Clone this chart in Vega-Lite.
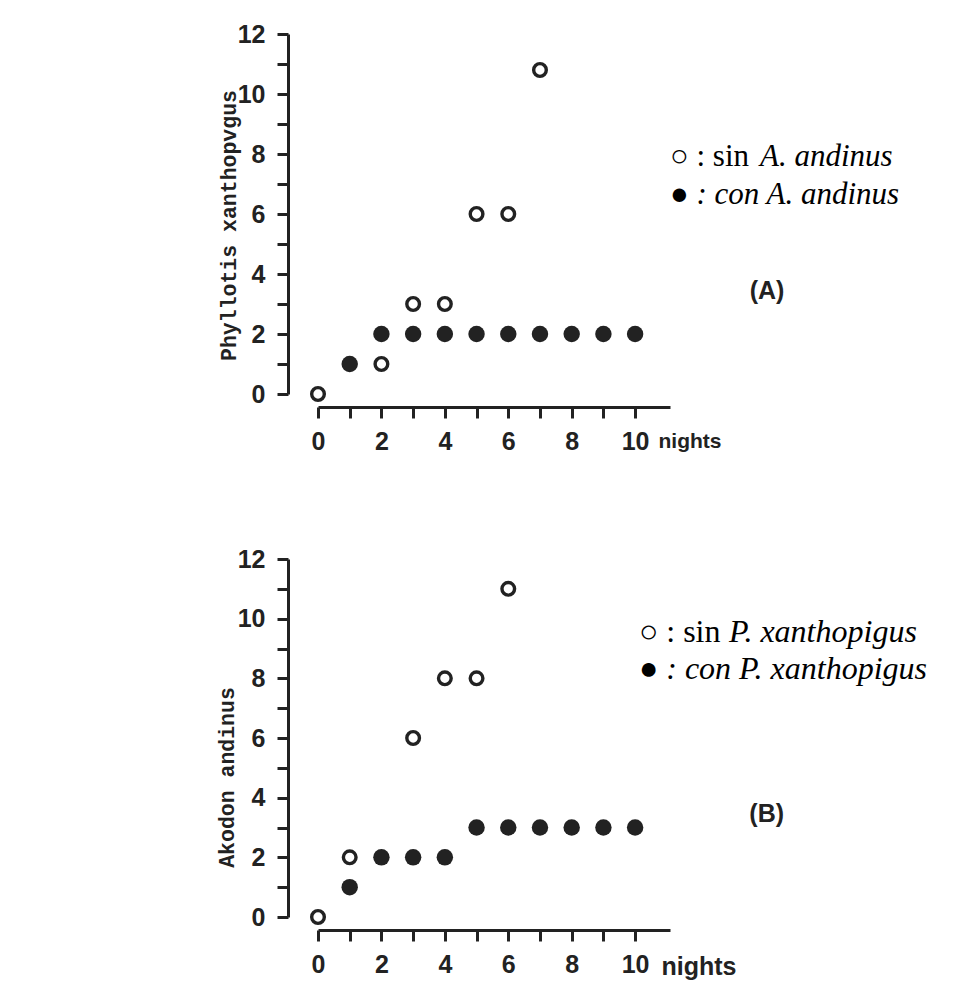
{
  "$schema": "https://vega.github.io/schema/vega-lite/v6.json",
  "background": "white",
  "padding": {"left": 216, "top": 22, "right": 5, "bottom": 5},
  "spacing": 93,
  "config": {
    "view": {"stroke": null},
    "axis": {
      "grid": false,
      "domainColor": "#222",
      "tickColor": "#222",
      "labelColor": "#222",
      "titleColor": "#222",
      "domainWidth": 3,
      "tickWidth": 3,
      "tickSize": 11,
      "labelFont": "Liberation Sans",
      "labelFontSize": 25,
      "labelFontWeight": "bold",
      "labelFlush": false,
      "labelOverlap": false
    }
  },
  "datasets": {
    "a_pts": [
      {"night": 0, "count": 0, "group": "sin"},
      {"night": 2, "count": 1, "group": "sin"},
      {"night": 3, "count": 3, "group": "sin"},
      {"night": 4, "count": 3, "group": "sin"},
      {"night": 5, "count": 6, "group": "sin"},
      {"night": 6, "count": 6, "group": "sin"},
      {"night": 7, "count": 10.8, "group": "sin"},
      {"night": 1, "count": 1, "group": "con"},
      {"night": 2, "count": 2, "group": "con"},
      {"night": 3, "count": 2, "group": "con"},
      {"night": 4, "count": 2, "group": "con"},
      {"night": 5, "count": 2, "group": "con"},
      {"night": 6, "count": 2, "group": "con"},
      {"night": 7, "count": 2, "group": "con"},
      {"night": 8, "count": 2, "group": "con"},
      {"night": 9, "count": 2, "group": "con"},
      {"night": 10, "count": 2, "group": "con"}
    ],
    "b_pts": [
      {"night": 0, "count": 0, "group": "sin"},
      {"night": 1, "count": 2, "group": "sin"},
      {"night": 3, "count": 6, "group": "sin"},
      {"night": 4, "count": 8, "group": "sin"},
      {"night": 5, "count": 8, "group": "sin"},
      {"night": 6, "count": 11, "group": "sin"},
      {"night": 1, "count": 1, "group": "con"},
      {"night": 2, "count": 2, "group": "con"},
      {"night": 3, "count": 2, "group": "con"},
      {"night": 4, "count": 2, "group": "con"},
      {"night": 5, "count": 3, "group": "con"},
      {"night": 6, "count": 3, "group": "con"},
      {"night": 7, "count": 3, "group": "con"},
      {"night": 8, "count": 3, "group": "con"},
      {"night": 9, "count": 3, "group": "con"},
      {"night": 10, "count": 3, "group": "con"}
    ]
  },
  "vconcat": [
    {
      "width": 352,
      "height": 360,
      "encoding": {
        "x": {"field": "night", "type": "quantitative",
          "scale": {"domain": [0, 11.1], "nice": false, "zero": false},
          "axis": {"values": [0,1,2,3,4,5,6,7,8,9,10],
            "labelExpr": "datum.value % 2 === 0 ? datum.label : ''",
            "offset": 13, "labelPadding": 11,
            "title": "nights", "titleX": 340, "titleY": 34,
            "titleAlign": "left", "titleBaseline": "middle", "titleAngle": 0,
            "titleFont": "Liberation Sans", "titleFontSize": 21, "titleFontWeight": "bold"}},
        "y": {"field": "count", "type": "quantitative",
          "scale": {"domain": [0, 12], "nice": false},
          "axis": {"values": [0,1,2,3,4,5,6,7,8,9,10,11,12],
            "labelExpr": "datum.value % 2 === 0 ? datum.label : ''",
            "offset": 30, "labelPadding": 12,
            "title": "Phyllotis xanthopvgus", "titleX": -59, "titleY": 191,
            "titleAngle": -90, "titleAlign": "center", "titleBaseline": "middle",
            "titleFont": "Liberation Mono", "titleFontSize": 21.5, "titleFontWeight": "bold"}}
      },
      "layer": [
        {"data": {"name": "a_pts"}, "transform": [{"filter": "datum.group === 'con'"}],
          "mark": {"type": "point", "shape": "circle", "filled": true, "fill": "#222", "size": 270, "opacity": 1}},
        {"data": {"name": "a_pts"}, "transform": [{"filter": "datum.group === 'sin'"}],
          "mark": {"type": "point", "shape": "circle", "filled": false, "stroke": "#222", "strokeWidth": 3.4, "size": 160, "opacity": 1}},
        {"data": {"values": [{"night": 11.1, "count": 7.6, "t": "○ : sin"}]},
          "mark": {"type": "text", "align": "left", "baseline": "alphabetic", "font": "Liberation Serif", "fontSize": 31, "color": "#000"},
          "encoding": {"text": {"field": "t"}}},
        {"data": {"values": [{"night": 13.94, "count": 7.6, "t": "A. andinus"}, {"night": 11.1, "count": 6.35, "t": "● : con A. andinus"}]},
          "mark": {"type": "text", "align": "left", "baseline": "alphabetic", "font": "Liberation Serif", "fontStyle": "italic", "fontSize": 31, "color": "#000"},
          "encoding": {"text": {"field": "t"}}},
        {"data": {"values": [{"night": 14.16, "count": 3.43, "t": "(A)"}]},
          "mark": {"type": "text", "align": "center", "baseline": "middle", "font": "Liberation Sans", "fontWeight": "bold", "fontSize": 25, "color": "#222"},
          "encoding": {"text": {"field": "t"}}}
      ]
    },
    {
      "width": 352,
      "height": 358,
      "encoding": {
        "x": {"field": "night", "type": "quantitative",
          "scale": {"domain": [0, 11.1], "nice": false, "zero": false},
          "axis": {"values": [0,1,2,3,4,5,6,7,8,9,10],
            "labelExpr": "datum.value % 2 === 0 ? datum.label : ''",
            "offset": 13, "labelPadding": 11,
            "title": "nights", "titleX": 343, "titleY": 36,
            "titleAlign": "left", "titleBaseline": "middle", "titleAngle": 0,
            "titleFont": "Liberation Sans", "titleFontSize": 25, "titleFontWeight": "bold"}},
        "y": {"field": "count", "type": "quantitative",
          "scale": {"domain": [0, 12], "nice": false},
          "axis": {"values": [0,1,2,3,4,5,6,7,8,9,10,11,12],
            "labelExpr": "datum.value % 2 === 0 ? datum.label : ''",
            "offset": 30, "labelPadding": 12,
            "title": "Akodon andinus", "titleX": -61, "titleY": 218,
            "titleAngle": -90, "titleAlign": "center", "titleBaseline": "middle",
            "titleFont": "Liberation Mono", "titleFontSize": 21.5, "titleFontWeight": "bold"}}
      },
      "layer": [
        {"data": {"name": "b_pts"}, "transform": [{"filter": "datum.group === 'con'"}],
          "mark": {"type": "point", "shape": "circle", "filled": true, "fill": "#222", "size": 270, "opacity": 1}},
        {"data": {"name": "b_pts"}, "transform": [{"filter": "datum.group === 'sin'"}],
          "mark": {"type": "point", "shape": "circle", "filled": false, "stroke": "#222", "strokeWidth": 3.4, "size": 160, "opacity": 1}},
        {"data": {"values": [{"night": 10.12, "count": 9.23, "t": "○ : sin"}]},
          "mark": {"type": "text", "align": "left", "baseline": "alphabetic", "font": "Liberation Serif", "fontSize": 32, "color": "#000"},
          "encoding": {"text": {"field": "t"}}},
        {"data": {"values": [{"night": 12.96, "count": 9.23, "t": "P. xanthopigus"}, {"night": 10.12, "count": 7.99, "t": "● : con P. xanthopigus"}]},
          "mark": {"type": "text", "align": "left", "baseline": "alphabetic", "font": "Liberation Serif", "fontStyle": "italic", "fontSize": 32, "color": "#000"},
          "encoding": {"text": {"field": "t"}}},
        {"data": {"values": [{"night": 14.15, "count": 3.46, "t": "(B)"}]},
          "mark": {"type": "text", "align": "center", "baseline": "middle", "font": "Liberation Sans", "fontWeight": "bold", "fontSize": 25, "color": "#222"},
          "encoding": {"text": {"field": "t"}}}
      ]
    }
  ]
}
